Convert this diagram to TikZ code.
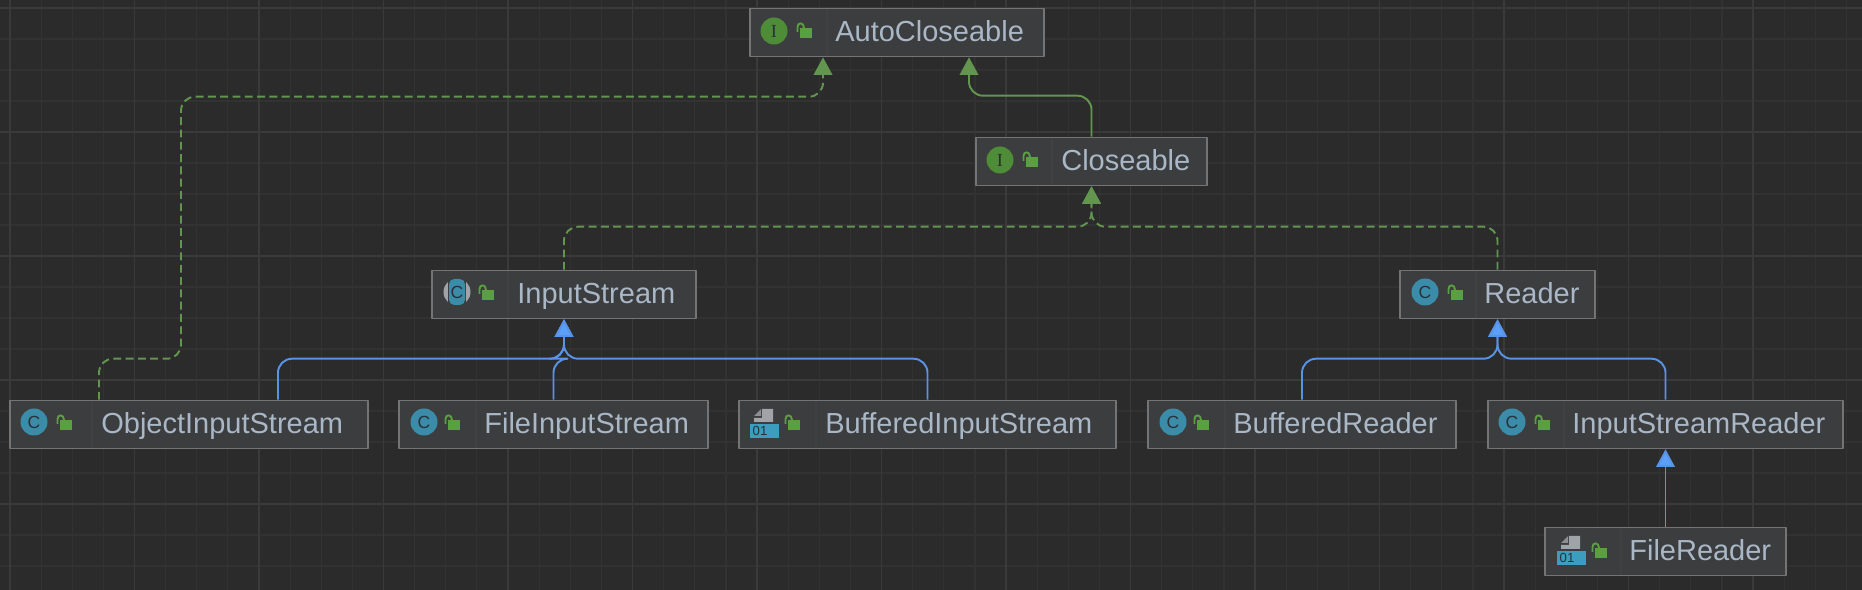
\documentclass[tikz,border=0pt]{standalone}
\usepackage{fontspec}
\setmainfont{Liberation Sans}
\newfontfamily\iconserif{Liberation Serif}
\usetikzlibrary{arrows.meta}
\definecolor{bgcol}{HTML}{2B2B2B}
\definecolor{gridmajor}{HTML}{3A3A3A}
\definecolor{gridminor}{HTML}{323232}
\definecolor{boxfill}{HTML}{3C3D3E}
\definecolor{boxline}{HTML}{747474}
\definecolor{divider}{HTML}{404142}
\definecolor{labelcol}{HTML}{A9B7C6}
\definecolor{implcol}{HTML}{62964F}
\definecolor{extcol}{HTML}{5A93E6}
\definecolor{tipblue}{HTML}{5BA0F8}
\definecolor{iconteal}{HTML}{3B8CA9}
\definecolor{binteal}{HTML}{3C9DBF}
\definecolor{icongreen}{HTML}{4F8C37}
\definecolor{lockgreen}{HTML}{5B9F45}
\definecolor{icongray}{HTML}{A0A4A8}
\definecolor{foldgray}{HTML}{8C9094}
\definecolor{iconink}{HTML}{263238}
\tikzset{
	classbox/.style={draw=boxline, fill=boxfill, line width=0.9pt, minimum height=0.96cm, inner sep=0pt},
	classlabel/.style={anchor=base west, inner sep=0pt, text=labelcol, font=\fontsize{16.5}{20}\selectfont},
	extline/.style={draw=extcol, line width=1.1pt, rounded corners=8pt, -{Triangle[width=10.5pt,length=10pt,fill=tipblue]}},
	interline/.style={draw=implcol, line width=1.1pt, rounded corners=8pt, -{Triangle[width=10.5pt,length=10pt,fill=implcol]}},
	implline/.style={interline, dash pattern=on 4.5pt off 2.5pt},
	lockicon/.pic={
		\fill[lockgreen] (-5,-3) rectangle (7,7);
		\draw[lockgreen, line width=1.1pt] (-7.5,1) -- (-7.5,-4) .. controls (-7.5,-9) and (-1,-9) .. (-1,-3);
	},
	classicon/.pic={
		\fill[iconteal] (0,0) circle [radius=13.5];
		\node[text=iconink, inner sep=0pt, font=\fontsize{10}{10}\selectfont] at (0,0) {C};
	},
	abstracticon/.pic={
		\fill[icongray] (0,0) circle [radius=13.5];
		\fill[boxfill] (-9,-14) rectangle (9,14);
		\fill[iconteal, rounded corners=3pt] (-8,-13) rectangle (8,13);
		\node[text=iconink, inner sep=0pt, font=\fontsize{10}{10}\selectfont] at (0,0) {C};
	},
	interfaceicon/.pic={
		\fill[icongreen] (0,0) circle [radius=13.5];
		\node[text=iconink, inner sep=0pt, font=\fontsize{10.5}{10.5}\iconserif] at (0,0) {I};
	},
	binaryicon/.pic={
		\fill[icongray] (-2,-15) -- (9,-15) -- (9,-2) -- (-10,-2) -- (-10,-6) -- (-2,-6) -- cycle;
		\fill[foldgray] (-10,-8) -- (-3,-15) -- (-3,-8) -- cycle;
		\fill[binteal] (-14,0) rectangle (15,14);
		\node[text=iconink, inner sep=0pt, font=\fontsize{7.5}{7.5}\selectfont] at (-4,7) {01};
	}
}
\begin{document}
\begin{tikzpicture}[x=0.02cm, y=-0.02cm, line join=round]
	\useasboundingbox (0,0) rectangle (1862,590);
	\fill[bgcol] (0,0) rectangle (1862,590);
	% grid
	\foreach \n in {0,...,59} \draw[gridminor, line width=0.7pt] (10+31.125*\n,0) -- (10+31.125*\n,590);
	\foreach \n in {0,...,18} \draw[gridminor, line width=0.7pt] (0,8+31*\n) -- (1862,8+31*\n);
	\foreach \n in {0,...,14} \draw[gridmajor, line width=0.8pt] (10+124.5*\n,0) -- (10+124.5*\n,590);
	\foreach \n in {0,...,4} \draw[gridmajor, line width=0.8pt] (0,8+124*\n) -- (1862,8+124*\n);

	% boxes
	\node (autocloseable) [classbox, minimum width=5.88cm] at (897,32.5) {};
	\node (closeable) [classbox, minimum width=4.62cm] at (1091.5,161.5) {};
	\node (inputstream) [classbox, minimum width=5.28cm] at (564,294.5) {};
	\node (reader) [classbox, minimum width=3.9cm] at (1497.5,294.5) {};
	\node (objectinput) [classbox, minimum width=7.16cm] at (189,424.5) {};
	\node (fileinput) [classbox, minimum width=6.18cm] at (553.5,424.5) {};
	\node (bufferedinput) [classbox, minimum width=7.54cm] at (927.5,424.5) {};
	\node (bufferedreader) [classbox, minimum width=6.16cm] at (1302,424.5) {};
	\node (inputreader) [classbox, minimum width=7.1cm] at (1665.5,424.5) {};
	\node (filereader) [classbox, minimum width=4.82cm] at (1665.5,551.5) {};

	% dividers
	\draw[divider, line width=0.6pt] (827,9) -- (827,56)
	(1052,138) -- (1052,185)
	(508,271) -- (508,318)
	(1476,271) -- (1476,318)
	(92,401) -- (92,448)
	(476,401) -- (476,448)
	(816,401) -- (816,448)
	(1225,401) -- (1225,448)
	(1564,401) -- (1564,448)
	(1621,528) -- (1621,575);

	% icons
	\pic at (774,31) {interfaceicon};
	\pic at (805,31) {lockicon};
	\pic at (1000,160) {interfaceicon};
	\pic at (1031,160) {lockicon};
	\pic at (457,292) {abstracticon};
	\pic at (487,293) {lockicon};
	\pic at (1425,292) {classicon};
	\pic at (1456,293) {lockicon};
	\pic at (34,422) {classicon};
	\pic at (65,423) {lockicon};
	\pic at (424,422) {classicon};
	\pic at (453,423) {lockicon};
	\pic at (764,424) {binaryicon};
	\pic at (793,423) {lockicon};
	\pic at (1173,422) {classicon};
	\pic at (1202,423) {lockicon};
	\pic at (1512,422) {classicon};
	\pic at (1543,423) {lockicon};
	\pic at (1571,551) {binaryicon};
	\pic at (1600,551) {lockicon};

	% labels
	\node (autolabel) [classlabel] at (835,42) {AutoCloseable};
	\node (closelabel) [classlabel] at (1061,171) {Closeable};
	\node (inputlabel) [classlabel] at (517,304) {InputStream};
	\node (readerlabel) [classlabel] at (1484,304) {Reader};
	\node (objectlabel) [classlabel] at (101,434) {ObjectInputStream};
	\node (filelabel) [classlabel] at (484,434) {FileInputStream};
	\node (bufferedlabel) [classlabel] at (825,434) {BufferedInputStream};
	\node (breaderlabel) [classlabel] at (1233,434) {BufferedReader};
	\node (ireaderlabel) [classlabel] at (1572,434) {InputStreamReader};
	\node (freaderlabel) [classlabel] at (1629,561) {FileReader};

	% connectors
	\draw[implline] ([xshift=-1.8cm]objectinput.north) -- ++(0,-41) -- ++(82,0) -- ++(0,-262) -- ++(642,0) -- ([xshift=-1.48cm]autocloseable.south);
	\draw[interline] (closeable.north) -- ++(0,-41) -- ++(-122.5,0) -- ([xshift=1.44cm]autocloseable.south);
	\draw[implline] (inputstream.north) -- ++(0,-43) -- ++(527.5,0) -- (closeable.south);
	\draw[implline] (reader.north) -- ++(0,-43) -- ++(-406,0) -- (closeable.south);
	\draw[extline] ([xshift=1.78cm]objectinput.north) -- ++(0,-41) -- ++(286,0) -- (inputstream.south);
	\draw[extline] (fileinput.north) -- ++(0,-41) -- ++(10.5,0) -- (inputstream.south);
	\draw[extline] (bufferedinput.north) -- ++(0,-41) -- ++(-363.5,0) -- (inputstream.south);
	\draw[extline] (bufferedreader.north) -- ++(0,-41) -- ++(195.5,0) -- (reader.south);
	\draw[extline] (inputreader.north) -- ++(0,-41) -- ++(-168,0) -- (reader.south);
	\draw[extline] (filereader.north) -- (inputreader.south);
\end{tikzpicture}
\end{document}
